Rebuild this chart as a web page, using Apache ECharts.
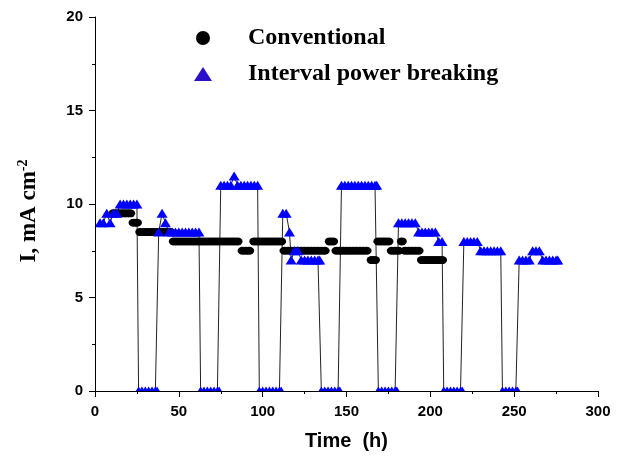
<!DOCTYPE html>
<html>
<head>
<meta charset="utf-8">
<title>Current density</title>
<script src="https://cdn.jsdelivr.net/npm/echarts@6/dist/echarts.min.js"></script>
<style>
  html, body { margin: 0; padding: 0; background: #fff; }
  #container { width: 622px; height: 456px; }
</style>
</head>
<body>
<div id="container"></div>
<script>
// Conventional: [time h, I mA cm-2]
var conventional = [
  [11,9.5],[13,9.5],[15,9.5],[17,9.5],[19,9.5],[21,9.5],[23,9.0],[25,9.0],
  [27,8.5],[29,8.5],[31,8.5],[33,8.5],[35,8.5],[37,8.5],[39,8.5],[41,8.5],[43,8.5],[45,8.5],
  [47,8.0],[49,8.0],[51,8.0],[53,8.0],[55,8.0],[57,8.0],[59,8.0],[61,8.0],[63,8.0],[65,8.0],
  [67,8.0],[69,8.0],[71,8.0],[73,8.0],[75,8.0],[77,8.0],[79,8.0],[81,8.0],[83,8.0],[85,8.0],
  [88,7.5],[90,7.5],[92,7.5],
  [95,8.0],[97,8.0],[99,8.0],[101,8.0],[103,8.0],[105,8.0],[107,8.0],[109,8.0],[111,8.0],
  [113,7.5],[115,7.5],[117,7.5],[119,7.5],[121,7.5],[123,7.5],[125,7.5],[127,7.5],[129,7.5],
  [131,7.5],[133,7.5],[135,7.5],[137,7.5],
  [140,8.0],[142,8.0],
  [144,7.5],[146,7.5],[148,7.5],[150,7.5],[152,7.5],[154,7.5],[156,7.5],[158,7.5],[160,7.5],[162,7.5],
  [165,7.0],[167,7.0],
  [169,8.0],[171,8.0],[173,8.0],[175,8.0],
  [177,7.5],[179,7.5],[181,7.5],[183,8.0],[185,7.5],[187,7.5],[189,7.5],[191,7.5],[193,7.5],
  [195,7.0],[197,7.0],[199,7.0],[201,7.0],[203,7.0],[205,7.0],[207,7.0]
];

// Interval power breaking: [time h, I mA cm-2]
var intervalBreaking = [
  [3,9.0],[5,9.0],[7,9.5],[9,9.0],[11,9.5],[13,9.5],[15,10],[17,10],[19,10],[21,10],[23,10],[25,10],
  [26,0],[28,0],[30,0],[32,0],[34,0],[36,0],[37,0],
  [38,8.5],[40,9.5],[42,9.0],[44,8.5],[46,8.5],[48,8.5],[50,8.5],[52,8.5],[54,8.5],[56,8.5],[58,8.5],[60,8.5],[62,8.5],
  [63,0],[65,0],[67,0],[69,0],[71,0],[73,0],[74,0],
  [75,11],[77,11],[79,11],[81,11],[83,11.5],[85,11],[87,11],[89,11],[91,11],[93,11],[95,11],[97,11],
  [98,0],[100,0],[102,0],[104,0],[106,0],[108,0],[110,0],[111,0],
  [112,9.5],[114,9.5],[116,8.5],[117,7.0],[119,7.5],[121,7.5],[123,7.0],[125,7.0],[127,7.0],[129,7.0],[131,7.0],[133,7.0],[134,7.0],
  [135,0],[137,0],[139,0],[141,0],[143,0],[145,0],[146,0],
  [147,11],[149,11],[151,11],[153,11],[155,11],[157,11],[159,11],[161,11],[163,11],[165,11],[167,11],[168,11],
  [169,0],[171,0],[173,0],[175,0],[177,0],[179,0],[180,0],
  [181,9.0],[183,9.0],[185,9.0],[187,9.0],[189,9.0],[191,9.0],[193,8.5],[195,8.5],[197,8.5],[199,8.5],[201,8.5],[203,8.5],[205,8.0],[207,8.0],
  [208,0],[210,0],[212,0],[214,0],[216,0],[218,0],[219,0],
  [220,8.0],[222,8.0],[224,8.0],[226,8.0],[228,8.0],[230,7.5],[232,7.5],[234,7.5],[236,7.5],[238,7.5],[240,7.5],[242,7.5],
  [243,0],[245,0],[247,0],[249,0],[251,0],[252,0],
  [253,7.0],[255,7.0],[257,7.0],[259,7.0],[261,7.5],[263,7.5],[265,7.5],[267,7.0],[269,7.0],[271,7.0],[273,7.0],[275,7.0],[276,7.0]
];

var xTicks = [0, 300, 50];   // min, max, step
var yTicks = [0, 20, 5];

var myChart = echarts.init(document.getElementById('container'));
var axisFont = { color: '#000', fontFamily: 'Liberation Sans', fontWeight: 'bold', fontSize: 15 };

var option = {
  animation: false,
  grid: { left: 95, right: 24, top: 17, bottom: 65 },
  legend: {
    orient: 'vertical',
    left: 189, top: 21,
    itemWidth: 18, itemHeight: 14,
    itemGap: 12,
    data: [
      { name: 'Conventional', icon: 'circle', itemStyle: { color: '#000' } },
      { name: 'Interval power breaking', icon: 'triangle', itemStyle: { color: '#2a10c8' } }
    ],
    textStyle: {
      color: '#000', fontFamily: 'Liberation Serif', fontWeight: 'bold', fontSize: 24,
      padding: [0, 0, 0, 31]
    }
  },
  xAxis: {
    type: 'value', min: xTicks[0], max: xTicks[1], interval: xTicks[2], zlevel: 1,
    name: 'Time  (h)', nameLocation: 'middle', nameGap: 40,
    nameTextStyle: { color: '#000', fontFamily: 'Liberation Sans', fontWeight: 'bold', fontSize: 20 },
    axisLine: { lineStyle: { color: '#000', width: 1 } },
    axisTick: { length: 6, lineStyle: { color: '#000' } },
    minorTick: { show: true, splitNumber: 2, length: 3, lineStyle: { color: '#000' } },
    axisLabel: Object.assign({ margin: 13 }, axisFont),
    splitLine: { show: false }
  },
  yAxis: {
    type: 'value', min: yTicks[0], max: yTicks[1], interval: yTicks[2], zlevel: 1,
    name: '{a|I, mA cm}{b|-2}', nameLocation: 'middle', nameGap: 53,
    nameTextStyle: {
      padding: [0, 14, 0, 0],
      rich: {
        a: { color: '#000', fontFamily: 'Liberation Serif', fontWeight: 'bold', fontSize: 23 },
        b: { color: '#000', fontFamily: 'Liberation Serif', fontWeight: 'bold', fontSize: 14, padding: [0, 0, 12, 0] }
      }
    },
    axisLine: { show: true, lineStyle: { color: '#000', width: 1 } },
    axisTick: { show: true, length: 6, lineStyle: { color: '#000' } },
    minorTick: { show: true, splitNumber: 2, length: 3, lineStyle: { color: '#000' } },
    axisLabel: Object.assign({ margin: 12 }, axisFont),
    splitLine: { show: false }
  },
  series: [
    {
      name: 'trace', type: 'line', data: intervalBreaking, showSymbol: false,
      lineStyle: { color: '#222', width: 1 }, z: 1, silent: true
    },
    {
      name: 'Conventional', type: 'scatter', data: conventional,
      symbol: 'circle', symbolSize: [10, 8],
      itemStyle: { color: '#000', opacity: 1 }, z: 2
    },
    {
      name: 'Interval power breaking', type: 'scatter', data: intervalBreaking,
      symbol: 'triangle', symbolSize: [11, 9],
      itemStyle: { color: '#0000ff', opacity: 1 }, z: 3
    }
  ]
};
myChart.setOption(option);

// white strip under the x axis so markers sitting on 0 look clipped to the plot
var p0 = myChart.convertToPixel({ gridIndex: 0 }, [xTicks[0], yTicks[0]]);
var p1 = myChart.convertToPixel({ gridIndex: 0 }, [xTicks[1], yTicks[0]]);
myChart.setOption({
  graphic: [{
    type: 'rect', z: 10,
    shape: { x: p0[0] + 1, y: p0[1] + 1, width: p1[0] - p0[0], height: 8 },
    style: { fill: '#fff' }
  }]
});
</script>
</body>
</html>
